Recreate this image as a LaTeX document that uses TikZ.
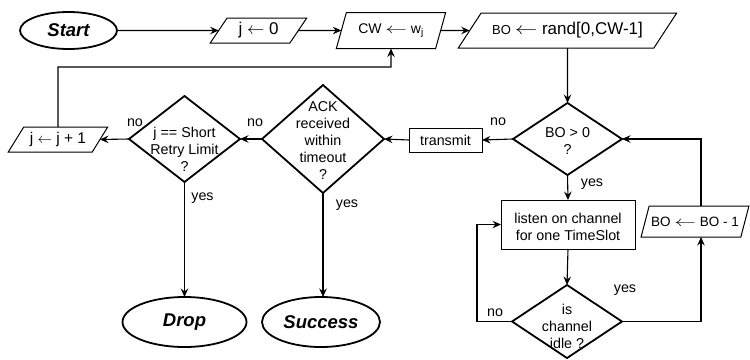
\documentclass[tikz,border=0pt]{standalone}
\usepackage{fontspec}
\setmainfont{Liberation Sans}
\usetikzlibrary{shapes.geometric,arrows.meta}
% thin assignment arrow, stretched sideways by the given factor
\newcommand{\assignarrow}[1]{\scalebox{#1}[1]{$\leftarrow$}}

\begin{document}
\begin{tikzpicture}[x=1pt,y=-1pt,
  font=\fontsize{14.3}{17}\selectfont,
  base/.style={inner sep=0pt, outer sep=0pt},
  term/.style={base, ellipse, draw, line width=1.8pt,
    font=\fontsize{18.5}{21}\selectfont\bfseries\itshape},
  proc/.style={base, rectangle, draw, line width=1pt},
  para/.style 2 args={base, trapezium, draw, line width=1pt,
    trapezium stretches=true,
    trapezium left angle=#1, trapezium right angle=#2},
  dia/.style={base, diamond, draw, line width=1.8pt},
  txt/.style={base, align=center},
  conn/.style={line width=1.1pt, -{Stealth[length=8.5pt,width=7.5pt,inset=3pt]}},
  lbl/.style={base},
]
\useasboundingbox (0,0) rectangle (750,359);

% terminals
\node[term, minimum width=97pt, minimum height=37pt] (start) at (68.5,30.5) {Start};
\node[term, minimum width=124pt, minimum height=50pt] (drop) at (184.5,322) {Drop};
\node[term, minimum width=118pt, minimum height=50pt] (success) at (321,322) {Success};

% assignments
\node[para={55.8}{124.2}, minimum width=97pt, minimum height=25pt,
  font=\fontsize{17}{20}\selectfont] (j0) at (258.5,30.5) {j \assignarrow{1} 0};
\node[para={62.2}{117.8}, minimum width=110pt, minimum height=36pt,
  font=\fontsize{14}{16}\selectfont] (cw) at (391,30.5) {CW \assignarrow{1.5} w\textsubscript{j}};
\node[para={38.5}{141.5}, minimum width=219pt, minimum height=35pt] (bo) at (567.5,30.5)
  {{\fontsize{13}{15}\selectfont BO} {\fontsize{17}{20}\selectfont\assignarrow{1.3} rand[0,CW-1]}};
\node[para={48.7}{131.3}, minimum width=100pt, minimum height=25pt,
  font=\fontsize{15.5}{18}\selectfont] (jinc) at (58,139.5) {j \assignarrow{1} j + 1};
\node[para={51.1}{128.9}, minimum width=108pt, minimum height=31pt,
  font=\fontsize{13.5}{15}\selectfont] (bom1) at (695,221.5) {BO \assignarrow{1.5} BO - 1};

% processes
\node[proc, minimum width=73pt, minimum height=24pt] (tx) at (445.5,140) {transmit};
\node[proc, minimum width=134pt, minimum height=49pt] (listen) at (568,224.5) {};
\node[txt] (listent) at (568,226.5) {listen on channel\\for one TimeSlot};

% decisions
\node[dia, minimum width=109pt, minimum height=72pt] (dbo) at (567.5,139) {};
\node[txt] (dbot) at (567.5,141.5) {BO > 0\\?};
\node[dia, minimum width=122pt, minimum height=108pt] (dack) at (323,139) {};
\node[txt] (dackt) at (323,141) {ACK\\received\\within\\timeout\\?};
\node[dia, minimum width=111pt, minimum height=86pt] (dsr) at (184.5,139) {};
\node[txt] (dsrt) at (184.5,149) {j == Short\\Retry Limit\\?};
\node[dia, minimum width=110pt, minimum height=73pt] (didle) at (567,321.5) {};
\node[txt] (didlet) at (567,326) {is\\channel\\idle ?};

% branch labels
\node[lbl] (lno1) at (498,122) {no};
\node[lbl] (lno2) at (255,123) {no};
\node[lbl] (lno3) at (135,123) {no};
\node[lbl] (lyes1) at (202.5,198) {yes};
\node[lbl] (lyes2) at (347,205) {yes};
\node[lbl] (lyes3) at (592,184) {yes};
\node[lbl] (lno4) at (495,313) {no};
\node[lbl] (lyes4) at (625,290) {yes};

% routing points
\coordinate (back) at (391,67);
\coordinate (noturn) at (477,321.5);
\coordinate (bcol) at (701,0);

% connectors
\draw[conn] (start.east) -- (j0.west);
\draw[conn] (j0.east) -- (cw.west);
\draw[conn] (cw.east) -- (bo.west);
\draw[conn] (bo.south) -- (dbo.north);
\draw[conn] (dbo.west) -- (tx.east);
\draw[conn] (tx.west) -- (dack.east);
\draw[conn] (dack.west) -- (dsr.east);
\draw[conn] (dsr.west) -- (jinc.east);
\draw[conn] (jinc.north) |- (back) -- (cw.south);
\draw[conn] (dsr.south) -- (drop.north);
\draw[conn] (dack.south) -- (dack.south |- success.north);
\draw[conn] (dbo.south) -- (listen.north);
\draw[conn] (listen.south) -- (didle.north);
\draw[conn] (didle.west) -- (noturn) |- (listen.west);
\draw[conn] (didle.east) -| (bcol |- bom1.south);
\draw[conn] (bcol |- bom1.north) |- (dbo.east);
\end{tikzpicture}
\end{document}
